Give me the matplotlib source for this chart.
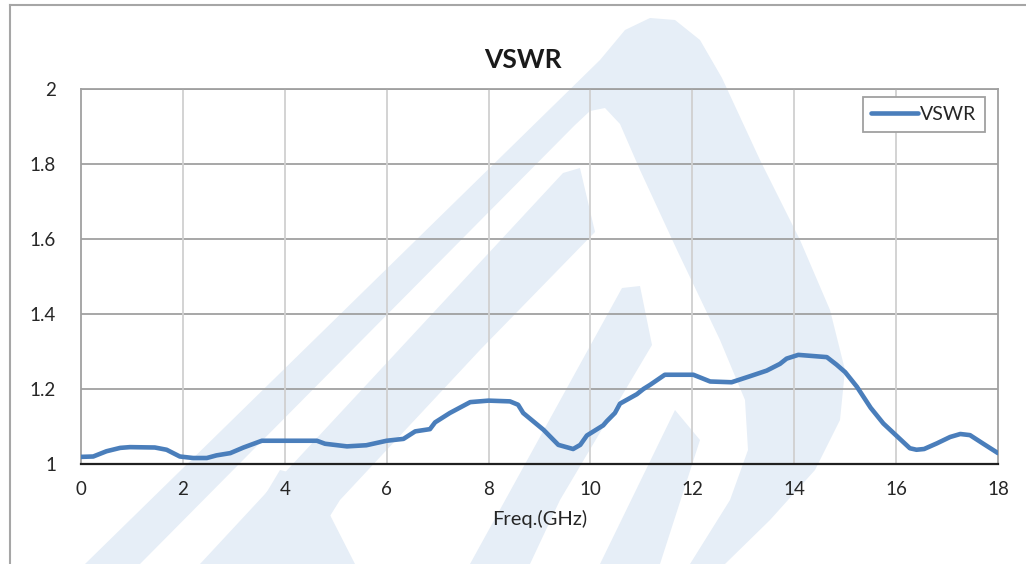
import matplotlib
matplotlib.use('Agg')
import matplotlib.pyplot as plt
from matplotlib.patches import Polygon
from matplotlib.lines import Line2D
from matplotlib.ticker import FuncFormatter

plt.rcParams['font.family'] = ['Lato', 'DejaVu Sans']

# data
freq = [0, 0.24, 0.5, 0.77, 0.96, 1.45, 1.68, 1.94, 2.2, 2.47, 2.66, 2.93, 3.19,
        3.55, 4.0, 4.63, 4.79, 5.22, 5.6, 6.0, 6.33, 6.56, 6.85, 6.95, 7.24, 7.64,
        8.0, 8.42, 8.58, 8.68, 9.08, 9.37, 9.66, 9.8, 9.93, 10.25, 10.32, 10.48,
        10.58, 10.91, 11.04, 11.17, 11.46, 12.02, 12.35, 12.77, 13.13, 13.46,
        13.72, 13.85, 14.08, 14.64, 14.83, 15.0, 15.23, 15.5, 15.75, 16.01, 16.27,
        16.4, 16.55, 16.8, 17.06, 17.26, 17.45, 17.7, 18.0]
vswr = [1.019, 1.02, 1.034, 1.043, 1.045, 1.044, 1.038, 1.02, 1.016, 1.016, 1.023,
        1.029, 1.044, 1.062, 1.062, 1.062, 1.054, 1.047, 1.05, 1.062, 1.067, 1.087,
        1.093, 1.111, 1.136, 1.165, 1.169, 1.167, 1.158, 1.136, 1.091, 1.051, 1.04,
        1.051, 1.076, 1.103, 1.114, 1.136, 1.161, 1.186, 1.2, 1.211, 1.238, 1.238,
        1.22, 1.218, 1.234, 1.249, 1.267, 1.281, 1.291, 1.285, 1.265, 1.245, 1.206,
        1.15, 1.108, 1.075, 1.042, 1.038, 1.04, 1.055, 1.072, 1.08, 1.077, 1.055, 1.029]

x_ticks = [0, 2, 4, 6, 8, 10, 12, 14, 16, 18]
y_ticks = [1, 1.2, 1.4, 1.6, 1.8, 2]

W, H = 1026, 564
fig = plt.figure(figsize=(W / 100, H / 100), dpi=100)

# pale logo watermark behind the chart (pixel outlines, y from top)
wm_blue = '#e6eef7'
def px(pts):
    return [(x / W, 1 - y / H) for x, y in pts]

shapes = [
    (wm_blue, [(85, 564), (600, 60), (625, 30), (650, 18), (675, 20), (700, 40),
               (722, 78), (760, 160), (800, 240), (830, 310), (845, 370),
               (840, 420), (815, 470), (770, 520), (725, 564)]),
    ('white', [(140, 564), (575, 125), (590, 111), (605, 108), (620, 124),
               (640, 170), (677, 250), (720, 340), (745, 400), (748, 450),
               (730, 500), (690, 564)]),
    (wm_blue, [(200, 564), (563, 173), (580, 168), (595, 232), (480, 350),
               (340, 500), (300, 564)]),
    (wm_blue, [(250, 564), (262, 500), (280, 470), (300, 475), (330, 515), (355, 564)]),
    (wm_blue, [(470, 564), (622, 288), (640, 286), (652, 345), (560, 500), (530, 564)]),
    (wm_blue, [(600, 564), (675, 410), (700, 440), (660, 564)]),
]
for col, pts in shapes:
    fig.patches.append(Polygon(px(pts), closed=True, transform=fig.transFigure,
                               facecolor=col, edgecolor='none', zorder=-5))

# outer chart border (only left and top edges are visible)
fig.add_artist(Line2D([10 / W, 10 / W], [0, 1 - 5 / H], transform=fig.transFigure,
                      color='#a6a6a6', lw=1.5))
fig.add_artist(Line2D([10 / W, 1], [1 - 5 / H, 1 - 5 / H], transform=fig.transFigure,
                      color='#a6a6a6', lw=1.5))

ax = fig.add_axes([81 / W, 1 - 464 / H, (998 - 81) / W, (464 - 89) / H])
ax.set_facecolor('none')

ax.plot(freq, vswr, color='#4a7ebb', lw=3.3, label='VSWR', zorder=3,
        solid_capstyle='round')

ax.set_xlim(0, 18)
ax.set_ylim(1, 2)
ax.set_xticks(x_ticks)
ax.set_yticks(y_ticks)
ax.yaxis.set_major_formatter(FuncFormatter(lambda v, p: f'{v:g}'))
ax.tick_params(length=0, labelsize=13.5, colors='#262626', pad=12)
ax.tick_params(axis='y', pad=18)

for v in y_ticks[1:]:
    ax.axhline(v, color='#a0a0a0', lw=1.3, zorder=1)
for v in x_ticks[1:-1]:
    ax.axvline(v, color='#d0d0d0', lw=1.3, zorder=1)

for s in ['top', 'right', 'left']:
    ax.spines[s].set_color('#a0a0a0')
    ax.spines[s].set_linewidth(1.3)
ax.spines['bottom'].set_color('#202020')
ax.spines['bottom'].set_linewidth(1.6)
ax.spines['bottom'].set_zorder(4)

ax.set_xlabel('Freq.(GHz)', fontsize=14.5, color='#262626', labelpad=9)

fig.text(523 / W, 1 - 60 / H, 'VSWR', ha='center', va='center',
         fontsize=19, fontweight='bold', color='#1a1a1a')

leg = ax.legend(loc='upper right', bbox_to_anchor=(985 / W, 1 - 97 / H),
                bbox_transform=fig.transFigure, borderaxespad=0, fontsize=14,
                fancybox=False, framealpha=1, edgecolor='#a0a0a0',
                handlelength=2.4, handletextpad=0.1, borderpad=0.45)
leg.get_frame().set_linewidth(1.3)
for t in leg.get_texts():
    t.set_color('#262626')

fig.savefig('out.png', dpi=100)
